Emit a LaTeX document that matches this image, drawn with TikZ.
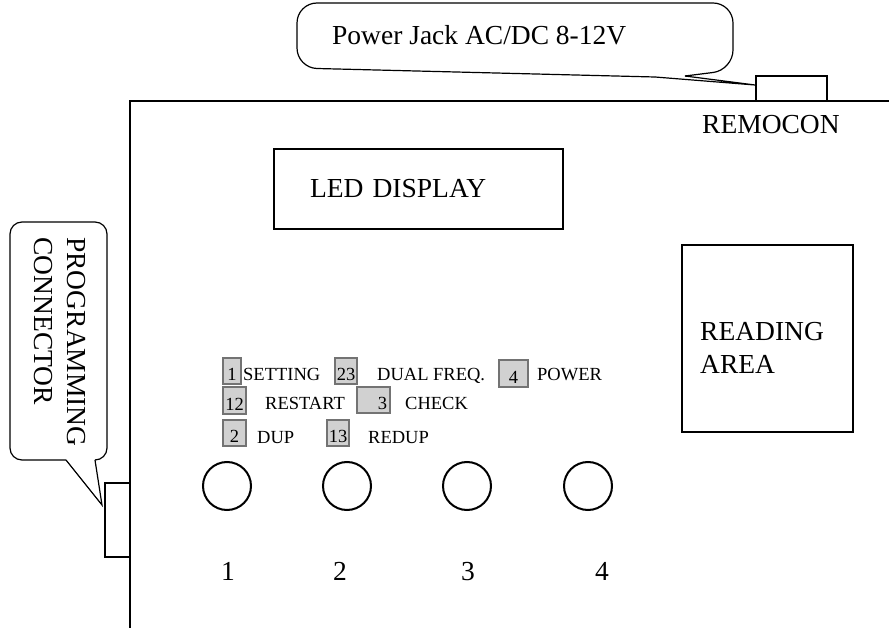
\documentclass[tikz,border=0pt]{standalone}
\usepackage{fontspec}
\setmainfont{Liberation Serif}
\usetikzlibrary{positioning}

\begin{document}
\begin{tikzpicture}[
    x=1pt, y=-1pt,
    big/.style={font=\fontsize{27.5}{33}\selectfont},
    small/.style={font=\fontsize{18.5}{22}\selectfont},
    panel/.style={draw, line width=1.2pt},
    pad/.style={draw=black!55, fill=black!18, line width=1.5pt, inner sep=0pt, text height=19pt, text depth=0pt, small},
    padtext/.style={small, anchor=base west, inner sep=0pt},
    knob/.style={circle, draw, line width=2pt, minimum size=48pt, inner sep=0pt},
    bubble/.style={draw, line width=1.2pt, rounded corners=20pt},
    tail/.style={draw, line width=1.2pt, line join=miter}
]
\useasboundingbox (0,0) rectangle (889,628);

% board outline
\coordinate (bnw) at (130,101);
\draw[line width=1.2pt] (889,101) -- (bnw) -- (130,628);

\node[panel, minimum width=71pt, minimum height=25pt, inner sep=0pt] (remo) at (791.5,88.5) {};
\node[big, anchor=base west, inner sep=0pt] (remotxt) at (702,134) {REMOCON};
\node[panel, minimum width=25pt, minimum height=74pt, inner sep=0pt] (prog) at (117.5,520) {};

% callouts
\node[big, anchor=base west, inner sep=0pt] (jacktxt) at (332,45) {Power Jack AC/DC 8-12V};
\coordinate (jacktip) at (755,85);
\draw[bubble] (685,76) -- (733,70) -- (733,3) -- (297,3) -- (297,68) -- (655,77);
\draw[tail] (655,77) -- (jacktip) -- (685,76);

\node[big, rotate=-90, align=left, inner sep=0pt] (progtxt) at (60,342) {PROGRAMMING\\CONNECTOR};
\coordinate (progtip) at (102,505);
\draw[bubble, rounded corners=12pt] (66,460) -- (10,460) -- (10,222) -- (107,222) -- (107,460) -- (95,460);
\draw[tail] (95,460) -- (progtip) -- (66,460);

% display and reader
\node[panel, big, minimum width=289pt, minimum height=80pt, text width=217pt, inner xsep=36pt, align=left] (led) at (418.5,189) {LED DISPLAY};
\node[panel, minimum width=171pt, minimum height=187pt] (read) at (767.5,338.5) {};
\node[big, align=left, anchor=west, inner sep=0pt] (readtxt) at (700,348) {READING\\AREA};

% dip switch legend
\node[pad, minimum width=18pt, minimum height=26pt] (p1) at (232,371) {1};
\node[padtext] (t1) at (243,380) {SETTING};
\node[pad, minimum width=22pt, minimum height=26pt] (p23) at (346,371) {23};
\node[padtext] (t23) at (377,380) {DUAL FREQ.};
\node[pad, minimum width=29pt, minimum height=27pt] (p4) at (513.5,373.5) {4};
\node[padtext] (t4) at (537,380) {POWER};
\node[pad, minimum width=23pt, minimum height=27pt] (p12) at (234.5,400.5) {12};
\node[padtext] (t12) at (265,409) {RESTART};
\node[pad, minimum height=26pt, text width=27pt, inner xsep=3pt, align=right] (p3) at (373.5,400) {3};
\node[padtext] (t3) at (405,409) {CHECK};
\node[pad, minimum width=23pt, minimum height=26pt] (p2) at (234.5,433) {2};
\node[padtext] (t2) at (257,443) {DUP};
\node[pad, minimum width=22pt, minimum height=26pt] (p13) at (338,433) {13};
\node[padtext] (t13) at (368,443) {REDUP};

% push buttons
\foreach \i/\bx/\lx in {1/227/228, 2/347/340, 3/467/468, 4/588/602} {
    \node[knob] (btn\i) at (\bx,486) {};
    \node[big, anchor=base] (num\i) at (\lx,580) {\i};
}

\end{tikzpicture}
\end{document}
